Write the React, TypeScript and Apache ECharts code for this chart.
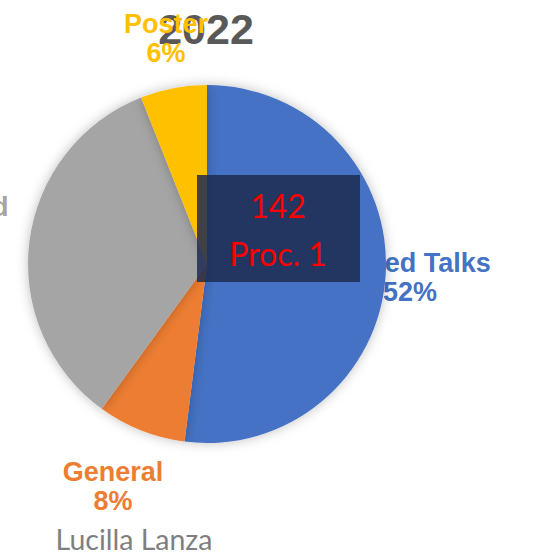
import React, { useEffect, useRef } from "react";
import * as echarts from "echarts";

const categories = ["Invited Talks", "General", "Contributed", "Poster"];
const values = [52, 8, 34, 6];
const colors = ["#4472C4", "#ED7D31", "#A5A5A5", "#FFC000"];
const titleText = "2022";
const boxLines = ["142", "Proc. 1"];
const authorText = "Lucilla Lanza";

export default function App() {
  const ref = useRef<HTMLDivElement>(null);
  useEffect(() => {
    if (!ref.current) return;
    const chart = echarts.init(ref.current, null, { renderer: "svg" });
    const total = values.reduce((a, b) => a + b, 0);
    const pct = (i: number) => Math.round((values[i] / total) * 100) + "%";
    const labelFont = "bold 27px Arial, 'Liberation Sans', sans-serif";
    const labelPos: [number, number][] = [
      [410, 277],
      [113, 486],
      [-68, 221],
      [166, 38],
    ];
    const labels = categories.map((c, i) => ({
      type: "text",
      x: labelPos[i][0],
      y: labelPos[i][1],
      z: 0,
      style: {
        text: c + "\n" + pct(i),
        fill: colors[i],
        font: labelFont,
        lineHeight: 29,
        align: "center",
        verticalAlign: "middle",
      },
    }));
    chart.setOption({
      animation: false,
      backgroundColor: "#ffffff",
      series: [
        {
          type: "pie",
          z: 2,
          center: [207, 264],
          radius: 179,
          startAngle: 90,
          clockwise: true,
          label: { show: false },
          labelLine: { show: false },
          emphasis: { disabled: true },
          itemStyle: {
            borderWidth: 0,
            shadowBlur: 12,
            shadowColor: "rgba(0,0,0,0.25)",
          },
          data: categories.map((c, i) => ({
            name: c,
            value: values[i],
            itemStyle: { color: colors[i] },
          })),
        },
      ],
      graphic: [
        {
          type: "text",
          x: 206,
          y: 29,
          z: 0,
          style: {
            text: titleText,
            fill: "#595959",
            font: "bold 43px Arial, 'Liberation Sans', sans-serif",
            align: "center",
            verticalAlign: "middle",
          },
        },
        ...labels,
        {
          type: "rect",
          z: 10,
          shape: { x: 197, y: 175, width: 163, height: 107 },
          style: { fill: "rgba(28,44,80,0.85)" },
        },
        {
          type: "text",
          x: 278,
          y: 205,
          z: 11,
          style: {
            text: boxLines[0],
            fill: "#FF0000",
            font: "32px Lato, sans-serif",
            align: "center",
            verticalAlign: "middle",
          },
        },
        {
          type: "text",
          x: 278,
          y: 253,
          z: 11,
          style: {
            text: boxLines[1],
            fill: "#FF0000",
            font: "32px Lato, sans-serif",
            align: "center",
            verticalAlign: "middle",
          },
        },
        {
          type: "text",
          x: 134,
          y: 539,
          z: 11,
          style: {
            text: authorText,
            fill: "#7F7F7F",
            font: "28.5px Lato, sans-serif",
            align: "center",
            verticalAlign: "middle",
          },
        },
      ],
    });
    return () => chart.dispose();
  }, []);
  return (
    <div
      ref={ref}
      style={{ position: "fixed", left: 0, top: 0, width: 537, height: 552 }}
    />
  );
}
